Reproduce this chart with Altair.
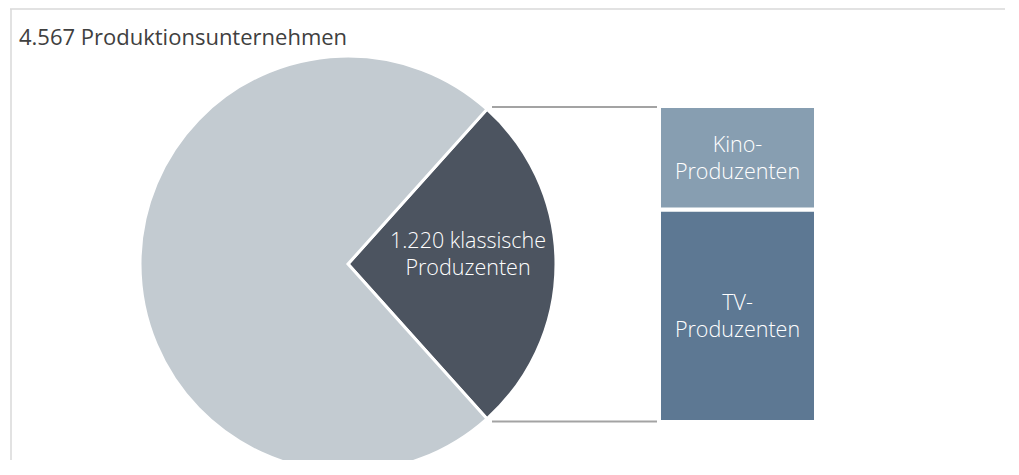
import math
import altair as alt
import pandas as pd

# ---- data ----
title_text = "4.567 Produktionsunternehmen"
pie_names = ["klassische Produzenten", "übrige Produktionsunternehmen"]
pie_values = [1220, 3347]
pie_label = "1.220 klassische\nProduzenten"
bar_names = ["TV-Produzenten", "Kino-Produzenten"]
bar_labels = ["TV-\nProduzenten", "Kino-\nProduzenten"]
bar_values = [820, 400]

# ---- styles ----
pie_colors = ["#4c5460", "#c3cbd1"]
bar_colors = ["#5d7893", "#879eb1"]
FONT = "Open Sans"

total = sum(pie_values)
classic = pie_values[0]
start = math.pi / 2 - math.pi * classic / total  # centre the slice on 3 o'clock

pie_df = pd.DataFrame({"name": pie_names, "value": pie_values, "ord": [0, 1]})

cum = 0
y0, y1, mid = [], [], []
for v in bar_values:
    y0.append(cum)
    y1.append(cum + v)
    mid.append(cum + v / 2)
    cum += v
bar_df = pd.DataFrame({"name": bar_names, "label": bar_labels, "value": bar_values,
                       "y0": y0, "y1": y1, "mid": mid})
conn_df = pd.DataFrame({"yv": [cum, 0]})

yscale = alt.Scale(domain=[0, cum], range=[414, 98])
cscale = alt.Scale(domain=pie_names + bar_names, range=pie_colors + bar_colors)

pie = alt.Chart(pie_df).mark_arc(radius=208, stroke="white", strokeWidth=3).encode(
    theta=alt.Theta("value:Q", stack=True,
                    scale=alt.Scale(range=[start, start + 2 * math.pi])),
    color=alt.Color("name:N", scale=cscale, legend=None),
    order=alt.Order("ord:Q"),
    x=alt.value(340),
    y=alt.value(256),
)

pie_text = alt.Chart(pd.DataFrame({"t": [pie_label]})).mark_text(
    font=FONT, fontSize=21.5, fontWeight=300, color="white", align="center", baseline="middle",
    lineBreak="\n", lineHeight=27,
).encode(text="t:N", x=alt.value(460), y=alt.value(234))

bars = alt.Chart(bar_df).mark_rect(stroke="white", strokeWidth=4).encode(
    y=alt.Y("y0:Q", scale=yscale, axis=None),
    y2="y1:Q",
    x=alt.value(651),
    x2=alt.value(808),
    color=alt.Color("name:N", scale=cscale, legend=None),
)

bar_text = alt.Chart(bar_df).mark_text(
    font=FONT, fontSize=21.5, fontWeight=300, color="white", align="center", baseline="middle",
    lineBreak="\n", lineHeight=27, dy=-12,
).encode(
    y=alt.Y("mid:Q", scale=yscale, axis=None),
    x=alt.value(729.5),
    text="label:N",
)

conn_top = alt.Chart(conn_df.iloc[[0]]).mark_rule(color="#a3a3a3", strokeWidth=2, yOffset=1).encode(
    y=alt.Y("yv:Q", scale=yscale, axis=None),
    x=alt.value(484),
    x2=alt.value(649),
)
conn_bot = alt.Chart(conn_df.iloc[[1]]).mark_rule(color="#a3a3a3", strokeWidth=2, yOffset=-0.5).encode(
    y=alt.Y("yv:Q", scale=yscale, axis=None),
    x=alt.value(484),
    x2=alt.value(649),
)

one = pd.DataFrame({"a": [0]})
border_top = alt.Chart(one).mark_rule(color="#d9d9d9", strokeWidth=1.5).encode(
    x=alt.value(2), x2=alt.value(997), y=alt.value(1))
border_left = alt.Chart(one).mark_rule(color="#d9d9d9", strokeWidth=1.5).encode(
    x=alt.value(3), y=alt.value(1), y2=alt.value(452))

title = alt.Chart(pd.DataFrame({"t": [title_text]})).mark_text(
    font=FONT, fontSize=22, color="#404040", align="left", baseline="alphabetic",
).encode(text="t:N", x=alt.value(11), y=alt.value(37))

chart = alt.layer(border_top, border_left, pie, pie_text, conn_top, conn_bot, bars, bar_text, title).properties(
    width=997, height=452,
    autosize=alt.AutoSizeParams(type="none"),
    padding=0,
).configure_view(stroke=None)

chart.save("out.html", embed_options={"renderer": "svg", "actions": False})
